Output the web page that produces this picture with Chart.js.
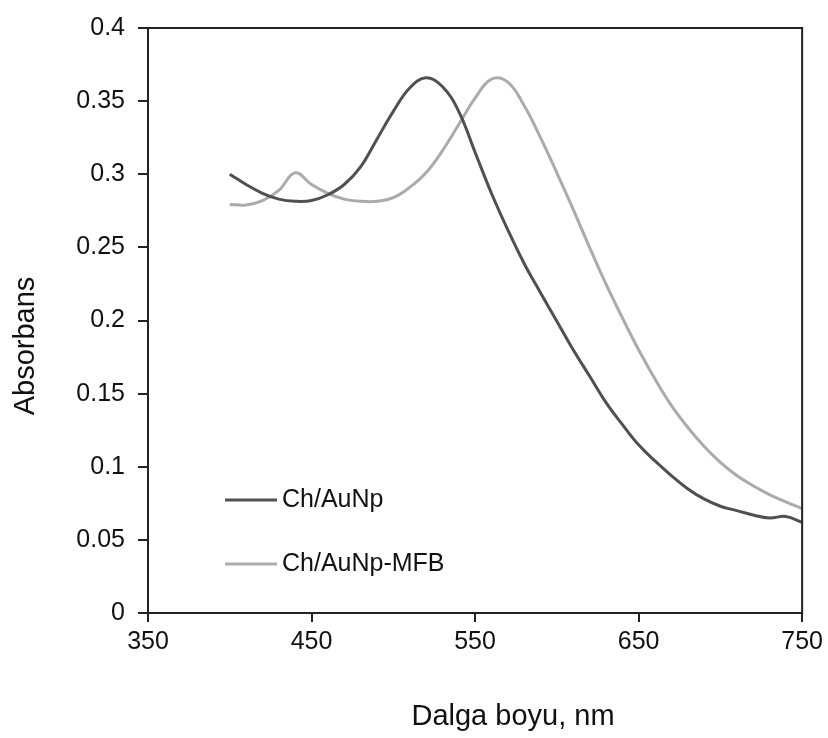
<!DOCTYPE html>
<html>
<head>
<meta charset="utf-8">
<script src="https://cdn.jsdelivr.net/npm/chart.js@4/dist/chart.umd.min.js"></script>
<style>
  body { margin: 0; background: #fff; }
  #wrap { width: 828px; height: 738px; }
</style>
</head>
<body>
<div id="wrap"><canvas id="grafico"></canvas></div>
<script>
// === DADOS ===
const wavelengths = [400, 410, 420, 430, 440, 450, 460, 470, 480, 490,
  500, 510, 520, 530, 540, 550, 560, 570, 580, 590,
  600, 610, 620, 630, 640, 650, 660, 670, 680, 690,
  700, 710, 720, 730, 740, 750];

const chAuNp = [0.300, 0.293, 0.287, 0.283, 0.2815, 0.282, 0.286, 0.293, 0.305, 0.324,
  0.343, 0.359, 0.366, 0.360, 0.343, 0.315, 0.287, 0.262, 0.239, 0.219,
  0.1995, 0.180, 0.162, 0.144, 0.129, 0.115, 0.104, 0.094, 0.085, 0.078,
  0.073, 0.070, 0.067, 0.065, 0.066, 0.062];

const chAuNpMfb = [0.2794, 0.279, 0.282, 0.289, 0.301, 0.293, 0.287, 0.283, 0.2815, 0.2815,
  0.284, 0.291, 0.301, 0.316, 0.334, 0.352, 0.365, 0.363, 0.347, 0.325,
  0.301, 0.276, 0.250, 0.225, 0.202, 0.180, 0.160, 0.142, 0.127, 0.114,
  0.103, 0.094, 0.087, 0.081, 0.076, 0.0714];

const xTicks = [350, 450, 550, 650, 750];
const yTicks = [0, 0.05, 0.1, 0.15, 0.2, 0.25, 0.3, 0.35, 0.4];

const seriesLabels = ['Ch/AuNp', 'Ch/AuNp-MFB'];

const toPoints = vals => vals.map((v, i) => ({ x: wavelengths[i], y: v }));
const FONT = 'Liberation Sans, Arial, sans-serif';
const TEXT = '#111';

// moldura (topo e direita), títulos dos eixos e legenda dentro do gráfico
const extras = {
  id: 'extras',
  afterDraw(chart) {
    const { ctx, chartArea: a } = chart;
    ctx.save();
    ctx.strokeStyle = '#222';
    ctx.lineWidth = 2;
    ctx.strokeRect(a.left, a.top, a.right - a.left, a.bottom - a.top);

    ctx.fillStyle = TEXT;
    ctx.font = '29px ' + FONT;
    ctx.textAlign = 'center';
    ctx.textBaseline = 'middle';
    ctx.fillText('Dalga boyu, nm', 513, 717);

    ctx.save();
    ctx.translate(26, 346);
    ctx.rotate(-Math.PI / 2);
    ctx.fillText('Absorbans', 0, 0);
    ctx.restore();

    // legenda
    const ys = [500, 564];
    chart.data.datasets.forEach((ds, i) => {
      ctx.strokeStyle = ds.borderColor;
      ctx.lineWidth = 3;
      ctx.beginPath();
      ctx.moveTo(225, ys[i]);
      ctx.lineTo(277, ys[i]);
      ctx.stroke();
      ctx.font = '25px ' + FONT;
      ctx.textAlign = 'left';
      ctx.fillText(ds.label, 282, ys[i]);
    });
    ctx.restore();
  }
};

const ctx = document.getElementById('grafico').getContext('2d');
new Chart(ctx, {
  type: 'scatter',
  data: {
    datasets: [{
      label: seriesLabels[0],
      data: toPoints(chAuNp),
      borderColor: '#505050',
      borderWidth: 3,
      showLine: true,
      pointRadius: 0,
      tension: 0.4
    }, {
      label: seriesLabels[1],
      data: toPoints(chAuNpMfb),
      borderColor: '#ababab',
      borderWidth: 3,
      showLine: true,
      pointRadius: 0,
      tension: 0.4
    }]
  },
  options: {
    responsive: true,
    maintainAspectRatio: false,
    animation: false,
    layout: { padding: { top: 19, right: 22, left: 0, bottom: 0 } },
    plugins: {
      legend: { display: false },
      tooltip: { enabled: false }
    },
    scales: {
      x: {
        type: 'linear',
        min: 350,
        max: 750,
        afterBuildTicks: s => { s.ticks = xTicks.map(v => ({ value: v })); },
        afterFit: s => { s.height = 125; },
        grid: { drawOnChartArea: false, drawTicks: true, tickLength: 9, color: '#222', lineWidth: 2 },
        border: { display: true, color: '#222', width: 2 },
        ticks: { color: TEXT, font: { family: FONT, size: 25 }, padding: 5, maxRotation: 0 }
      },
      y: {
        min: 0,
        max: 0.4,
        afterBuildTicks: s => { s.ticks = yTicks.map(v => ({ value: v })); },
        afterFit: s => { s.width = 148; },
        grid: { drawOnChartArea: false, drawTicks: true, tickLength: 10, color: '#222', lineWidth: 2 },
        border: { display: true, color: '#222', width: 2 },
        ticks: {
          color: TEXT,
          font: { family: FONT, size: 25 },
          padding: 13,
          callback: v => String(+v.toFixed(2))
        }
      }
    }
  },
  plugins: [extras]
});
</script>
</body>
</html>
